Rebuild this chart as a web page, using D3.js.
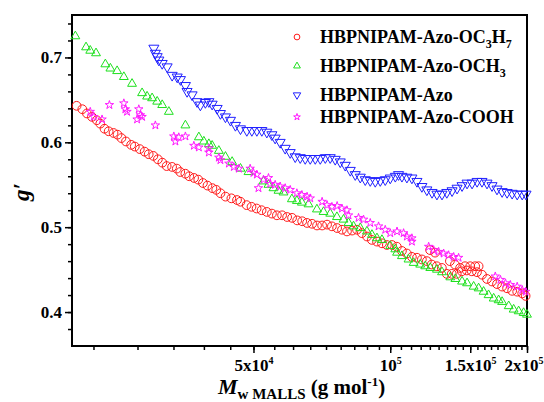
<!DOCTYPE html>
<html>
<head>
<meta charset="utf-8">
<script src="https://cdn.jsdelivr.net/npm/d3@7"></script>
<style>
body { margin: 0; background: #fff; }
svg text { font-family: "Liberation Serif", "Times New Roman", serif; font-weight: bold; fill: #000; }
</style>
</head>
<body>
<div id="chart"></div>
<script>
// HBPNIPAM-Azo-OC3H7 (red circles)
let oc3h7Mw = [20400, 21000, 21500, 22050, 22600, 23000, 23500, 24000, 24600, 25100,
    25600, 26200, 26900, 27400, 28100, 28800, 29400, 30100, 30800, 31500,
    32200, 33100, 33900, 34500, 35400, 36100, 37000, 37800, 38700, 39600,
    40600, 41400, 42300, 43400, 44700, 46000, 46800, 48300, 49500, 50800,
    52100, 53500, 54900, 56300, 57800, 59300, 60800, 62400, 64000, 65600,
    67300, 69000, 70800, 72600, 74400, 76400, 78300, 80300, 82400, 84500,
    86600, 88900, 91100, 93500, 95900, 98300, 100900, 103400, 106100, 108800,
    111600, 114500, 117400, 120400, 122400, 125500, 123400, 126600, 129900, 133200,
    135300, 138800, 136600, 140100, 143700, 142500, 146100, 150000, 153800, 156500,
    147400, 151200, 155200, 159200, 163300, 167500, 171800, 176300, 180800, 185500,
    190300, 195200, 198600];
let oc3h7G = [0.643, 0.639, 0.634, 0.630, 0.626, 0.622, 0.616, 0.613, 0.611, 0.609,
    0.605, 0.601, 0.597, 0.595, 0.592, 0.589, 0.586, 0.584, 0.580, 0.576,
    0.572, 0.571, 0.569, 0.565, 0.563, 0.560, 0.558, 0.556, 0.552, 0.549,
    0.546, 0.544, 0.540, 0.536, 0.534, 0.532, 0.530, 0.526, 0.524, 0.522,
    0.520, 0.518, 0.516, 0.514, 0.514, 0.512, 0.511, 0.508, 0.507, 0.505,
    0.504, 0.502, 0.502, 0.503, 0.501, 0.499, 0.497, 0.495, 0.496, 0.497,
    0.493, 0.489, 0.485, 0.483, 0.481, 0.479, 0.479, 0.477, 0.472, 0.469,
    0.465, 0.464, 0.462, 0.460, 0.473, 0.470, 0.456, 0.454, 0.452, 0.445,
    0.460, 0.456, 0.445, 0.445, 0.448, 0.452, 0.454, 0.454, 0.454, 0.454,
    0.449, 0.448, 0.447, 0.444, 0.439, 0.436, 0.433, 0.430, 0.428, 0.425,
    0.424, 0.422, 0.419];

// HBPNIPAM-Azo-OCH3 (green triangles)
let och3Mw = [20270, 21400, 21860, 22510, 23600, 24210, 25050, 25920, 27020, 28430,
    29160, 29910, 30690, 31480, 32560, 35410, 37910, 38880, 39880, 40550,
    41950, 43380, 44870, 46810, 48750, 52600, 53950, 55330, 56750, 58210,
    60740, 62300, 63900, 66080, 68960, 71310, 73770, 76320, 78920, 80940,
    83020, 85910, 88870, 91150, 93490, 95880, 100000, 102600, 103500, 106100,
    109700, 112600, 116400, 119400, 122500, 126700, 130000, 135600, 139100, 143900,
    147600, 152600, 156500, 160500, 164600, 168900, 173200, 176300, 182300, 186900,
    191700, 196600, 200000];
let och3G = [0.725, 0.712, 0.708, 0.705, 0.692, 0.687, 0.684, 0.677, 0.669, 0.658,
    0.654, 0.652, 0.648, 0.644, 0.636, 0.620, 0.606, 0.601, 0.598, 0.596,
    0.590, 0.583, 0.577, 0.569, 0.565, 0.554, 0.550, 0.546, 0.543, 0.541,
    0.533, 0.531, 0.529, 0.527, 0.521, 0.518, 0.516, 0.512, 0.509, 0.505,
    0.501, 0.499, 0.495, 0.491, 0.487, 0.485, 0.478, 0.474, 0.470, 0.466,
    0.462, 0.458, 0.456, 0.454, 0.452, 0.450, 0.447, 0.441, 0.439, 0.436,
    0.434, 0.430, 0.428, 0.424, 0.420, 0.416, 0.414, 0.412, 0.407, 0.403,
    0.401, 0.399, 0.397];

// HBPNIPAM-Azo (blue down triangles)
let azoMw = [30180, 30410, 30690, 30950, 31480, 32280, 33110, 33970, 34530, 35410,
    35710, 36630, 37570, 38200, 39180, 39880, 40550, 41590, 42290, 43380,
    44500, 45630, 46810, 48340, 49590, 50860, 52160, 53500, 54890, 55810,
    57240, 58720, 60230, 61780, 63370, 64990, 66660, 68380, 70140, 71950,
    73770, 75670, 77620, 79610, 81660, 83750, 85910, 88110, 90360, 92690,
    95070, 97500, 100000, 102600, 104300, 106100, 108800, 111600, 114500, 117400,
    120400, 123600, 126700, 130000, 133200, 136800, 140300, 143900, 147600, 151400,
    155300, 159200, 163300, 167500, 171800, 176300, 180800, 185500, 190300, 195200,
    199000];
let azoG = [0.711, 0.705, 0.701, 0.697, 0.693, 0.689, 0.679, 0.677, 0.674, 0.667,
    0.660, 0.656, 0.648, 0.644, 0.647, 0.648, 0.645, 0.640, 0.634, 0.630,
    0.626, 0.620, 0.616, 0.614, 0.614, 0.614, 0.614, 0.612, 0.609, 0.605,
    0.600, 0.593, 0.588, 0.583, 0.582, 0.581, 0.581, 0.581, 0.581, 0.582,
    0.582, 0.580, 0.577, 0.573, 0.567, 0.562, 0.559, 0.556, 0.555, 0.554,
    0.555, 0.556, 0.558, 0.560, 0.562, 0.560, 0.559, 0.558, 0.554, 0.548,
    0.544, 0.541, 0.539, 0.539, 0.541, 0.543, 0.546, 0.549, 0.552, 0.552,
    0.554, 0.554, 0.552, 0.549, 0.545, 0.542, 0.541, 0.540, 0.539, 0.539,
    0.539];

// HBPNIPAM-Azo-COOH (magenta stars)
let coohMw = [21860, 22250, 23210, 24090, 25920, 26120, 26340, 27960, 28190, 27720,
    28430, 30410, 33390, 34240, 33660, 35410, 36960, 37910, 39880, 39880,
    41950, 42290, 44140, 45270, 46430, 49160, 49990, 50860, 51280, 52600,
    53950, 54400, 55810, 57240, 58720, 60230, 62300, 63900, 65600, 66660,
    70800, 72600, 74400, 76400, 78300, 80300, 80940, 85160, 87350, 90360,
    94250, 97500, 100000, 103500, 107000, 108800, 111600, 111600, 121500, 124600,
    127800, 131100, 134400, 137900, 141400, 170300, 174800, 179300, 183800, 190300,
    195200, 198600];
let coohG = [0.636, 0.630, 0.627, 0.644, 0.646, 0.639, 0.636, 0.639, 0.632, 0.627,
    0.630, 0.620, 0.607, 0.606, 0.601, 0.607, 0.596, 0.594, 0.593, 0.588,
    0.582, 0.579, 0.575, 0.571, 0.569, 0.569, 0.564, 0.562, 0.546, 0.556,
    0.558, 0.551, 0.550, 0.548, 0.546, 0.544, 0.540, 0.538, 0.536, 0.534,
    0.530, 0.526, 0.524, 0.525, 0.522, 0.520, 0.514, 0.511, 0.509, 0.505,
    0.501, 0.497, 0.493, 0.495, 0.493, 0.489, 0.487, 0.483, 0.477, 0.473,
    0.471, 0.469, 0.467, 0.465, 0.464, 0.442, 0.438, 0.434, 0.432, 0.430,
    0.426, 0.424];

// axis ticks
let xTickValues = [50000, 100000, 150000, 200000];
let xTickBase = ['5x10', '10', '1.5x10', '2x10'];
let xTickExp = ['4', '5', '5', '5'];
let yTickValues = [0.4, 0.5, 0.6, 0.7];

// svg size matches the window
let svg_width = 544;
let svg_height = 402;

// plot frame
let plot_left = 72, plot_right = 527, plot_top = 15, plot_bottom = 346;

let svg = d3.select('#chart')
    .append('svg')
    .attr('width', svg_width)
    .attr('height', svg_height);

let x = d3.scaleLog().domain([19930, 200000]).range([plot_left, plot_right]);
let y = d3.scaleLinear().domain([0.36, 0.75]).range([plot_bottom, plot_top]);

// minor ticks: 8 between every 50000 step
let xMinor = d3.range(1, 37).map(k => k * 50000 / 9)
    .filter(v => v >= x.domain()[0] && v <= 200000);
let yMinor = d3.range(19, 38).map(k => k * 0.02);

// minor x ticks
svg.append('g')
    .attr('transform', 'translate(0,' + plot_bottom + ')')
    .call(d3.axisBottom(x).tickValues(xMinor).tickSize(4).tickSizeOuter(0).tickFormat(''))
    .call(g => g.select('.domain').remove())
    .call(g => g.selectAll('line').attr('stroke-width', 1.5));

// major x ticks with superscript labels
let xAxis = svg.append('g')
    .attr('transform', 'translate(0,' + plot_bottom + ')')
    .call(d3.axisBottom(x).tickValues(xTickValues).tickSize(7).tickSizeOuter(0).tickPadding(6))
    .call(g => g.select('.domain').remove())
    .call(g => g.selectAll('line').attr('stroke-width', 1.5));

xAxis.selectAll('.tick text')
    .attr('font-size', 17)
    .attr('font-family', 'Liberation Serif')
    .each(function(d, i) {
        let t = d3.select(this).text('');
        t.append('tspan').text(xTickBase[i]);
        t.append('tspan').attr('font-size', 10).attr('dy', '-0.75em').text(xTickExp[i]);
        // last label sits at the window edge, keep it inside
        if (i === xTickValues.length - 1) {
            t.attr('text-anchor', 'end').attr('x', svg_width - plot_right - 1);
        }
    });

// minor y ticks
svg.append('g')
    .attr('transform', 'translate(' + plot_left + ',0)')
    .call(d3.axisLeft(y).tickValues(yMinor).tickSize(4).tickSizeOuter(0).tickFormat(''))
    .call(g => g.select('.domain').remove())
    .call(g => g.selectAll('line').attr('stroke-width', 1.5));

// major y ticks
svg.append('g')
    .attr('transform', 'translate(' + plot_left + ',0)')
    .call(d3.axisLeft(y).tickValues(yTickValues).tickSize(7).tickSizeOuter(0).tickPadding(3).tickFormat(d3.format('.1f')))
    .call(g => g.select('.domain').remove())
    .call(g => g.selectAll('line').attr('stroke-width', 1.5))
    .call(g => g.selectAll('text').attr('font-size', 17).attr('font-family', 'Liberation Serif'));

// frame
svg.append('rect')
    .attr('x', plot_left)
    .attr('y', plot_top)
    .attr('width', plot_right - plot_left)
    .attr('height', plot_bottom - plot_top)
    .attr('fill', 'none')
    .attr('stroke', '#000')
    .attr('stroke-width', 2);

// series: values, color, symbol, size, rotation
let series = [
    {mw: oc3h7Mw, g: oc3h7G, color: '#ff1a1a', type: d3.symbolCircle, size: 60, rot: 0},
    {mw: och3Mw, g: och3G, color: '#1ee01e', type: d3.symbolTriangle, size: 34, rot: 0},
    {mw: azoMw, g: azoG, color: '#2020ff', type: d3.symbolTriangle, size: 44, rot: 180},
    {mw: coohMw, g: coohG, color: '#ff1aff', type: d3.symbolStar, size: 22, rot: 0}
];

series.forEach(function(s) {
    let sym = d3.symbol().type(s.type).size(s.size);
    svg.append('g')
        .selectAll('path')
        .data(s.mw.map((m, i) => [m, s.g[i]]))
        .enter()
        .append('path')
        .attr('d', sym)
        .attr('transform', d => 'translate(' + x(d[0]) + ',' + y(d[1]) + ') rotate(' + s.rot + ')')
        .attr('fill', 'none')
        .attr('stroke', s.color)
        .attr('stroke-width', 1);
});

// legend
let legendRows = [
    [['HBPNIPAM-Azo-OC', 0], ['3', 1], ['H', 0], ['7', 1]],
    [['HBPNIPAM-Azo-OCH', 0], ['3', 1]],
    [['HBPNIPAM-Azo', 0]],
    [['HBPNIPAM-Azo-COOH', 0]]
];
let legendBase = [43, 72, 101, 123];
let legendSize = [26, 20, 24, 14];

legendRows.forEach(function(row, i) {
    let s = series[i];
    svg.append('path')
        .attr('d', d3.symbol().type(s.type).size(legendSize[i]))
        .attr('transform', 'translate(297,' + (legendBase[i] - 6) + ') rotate(' + s.rot + ')')
        .attr('fill', 'none')
        .attr('stroke', s.color)
        .attr('stroke-width', 1);

    let t = svg.append('text')
        .attr('x', 320)
        .attr('y', legendBase[i])
        .attr('font-size', 18);
    let shift = 0;
    row.forEach(function(part) {
        let dy = part[1] ? 5 - shift : -shift;
        shift = part[1] ? 5 : 0;
        t.append('tspan')
            .attr('dy', dy)
            .attr('font-size', part[1] ? 12 : 18)
            .text(part[0]);
    });
});

// y title
svg.append('text')
    .attr('transform', 'translate(29,192) rotate(-90)')
    .attr('text-anchor', 'middle')
    .attr('font-size', 23)
    .attr('font-style', 'italic')
    .text('g\u2032');

// x title
let xt = svg.append('text')
    .attr('x', 218)
    .attr('y', 394);
xt.append('tspan').attr('font-size', 22).attr('font-style', 'italic').text('M');
xt.append('tspan').attr('font-size', 15).attr('dy', 5).text('w MALLS');
xt.append('tspan').attr('font-size', 21).attr('dy', -5).text(' (g mol');
xt.append('tspan').attr('font-size', 13).attr('dy', -8).text('-1');
xt.append('tspan').attr('font-size', 21).attr('dy', 8).text(')');
</script>
</body>
</html>
